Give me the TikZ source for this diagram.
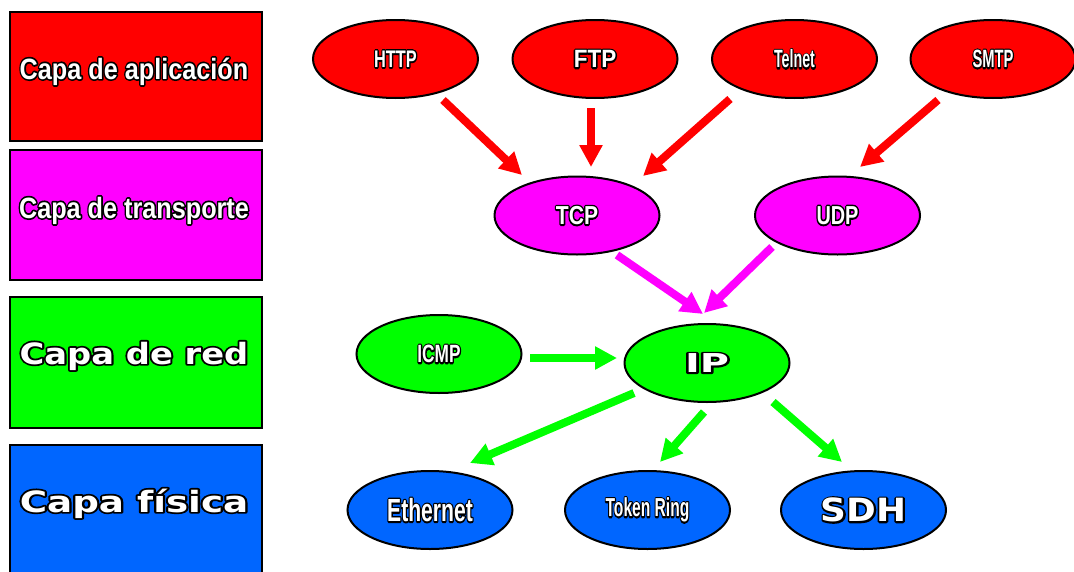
\documentclass[tikz,border=0pt]{standalone}
\usepackage{fontspec}
\setmainfont{Liberation Sans}
\newfontfamily\heavyfont{DejaVu Sans}
\usepackage{graphicx}
\usetikzlibrary{shapes.geometric,arrows.meta,calc}

\definecolor{appred}{HTML}{FF0000}
\definecolor{transmag}{HTML}{FF00FF}
\definecolor{netgreen}{HTML}{00FF00}
\definecolor{physblue}{HTML}{0066FF}

% white lettering with a black rim: a stroked black pass, then the white fill
\newcommand\rimtext[1]{{\color{white}%
  \makebox[0pt][l]{\special{pdf:literal direct 0 0 0 RG 2.6 w 1 j 1 Tr}#1%
    \special{pdf:literal direct 0 Tr}}%
  #1}}
% \lbl[family]{size}{horizontal scale}{text}
\newcommand\lbl[4][\rmfamily]{{#1\fontsize{#2}{#2}\selectfont\bfseries\scalebox{#3}[1]{\rimtext{#4}}}}

\begin{document}
\begin{tikzpicture}[x=0.75pt,y=-0.75pt,
  layerbox/.style={draw=black, line width=1.5pt, minimum width=189pt, inner sep=0pt},
  proto/.style={ellipse, draw=black, line width=1.5pt, minimum width=123.75pt,
                minimum height=58.5pt, inner sep=0pt},
  flow/.style={line width=6pt, -{Triangle[width=16.5pt,length=16.5pt]}}]
\useasboundingbox (0,0) rectangle (1074,571);

% layer boxes on the left
\node (lapp) [layerbox, fill=appred, minimum height=96.75pt] at (136,76.5) {};
\node (ltra) [layerbox, fill=transmag, minimum height=97.5pt] at (136,215) {};
\node (lnet) [layerbox, fill=netgreen, minimum height=98.25pt] at (136,362.5) {};
\node (lphy) [layerbox, fill=physblue, minimum height=98.25pt] at (136,510.5) {};
\node (tapp) [anchor=base, inner sep=0pt] at (134,79) {\lbl{22pt}{0.86}{Capa de aplicación}};
\node (ttra) [anchor=base, inner sep=0pt] at (134,218) {\lbl{22pt}{0.86}{Capa de transporte}};
\node (tnet) [anchor=base, inner sep=0pt] at (134,364) {\lbl[\heavyfont]{22pt}{1.15}{Capa de red}};
\node (tphy) [anchor=base, inner sep=0pt] at (134,512) {\lbl[\heavyfont]{22pt}{1.27}{Capa física}};

% application protocols
\node (http)   [proto, fill=appred] at (395.5,59) {\lbl{18pt}{0.68}{HTTP}};
\node (ftp)    [proto, fill=appred] at (595,59)   {\lbl{18.75pt}{0.9}{FTP}};
\node (telnet) [proto, fill=appred] at (794.5,59) {\lbl{18.75pt}{0.57}{Telnet}};
\node (smtp)   [proto, fill=appred] at (993,59)   {\lbl{18.75pt}{0.59}{SMTP}};

% transport protocols
\node (tcp) [proto, fill=transmag] at (577,215.5)   {\lbl{19.5pt}{0.81}{TCP}};
\node (udp) [proto, fill=transmag] at (837.5,215.5) {\lbl{19.5pt}{0.765}{UDP}};

% network protocols
\node (icmp) [proto, fill=netgreen] at (439,354) {\lbl{18.75pt}{0.69}{ICMP}};
\node (ip)   [proto, fill=netgreen] at (707,363) {\lbl[\heavyfont]{19.5pt}{1.53}{IP}};

% physical layer
\node (eth) [proto, fill=physblue] at (430,510)   {\lbl{24pt}{0.66}{Ethernet}};
\node (tr)  [proto, fill=physblue] at (647.5,510) {\lbl{19.5pt}{0.6}{Token Ring}};
\node (sdh) [proto, fill=physblue] at (863.5,510) {\lbl[\heavyfont]{24pt}{1.12}{SDH}};

% arrows between layers
\draw[flow, appred] ($(http)+(47.5,41)$)   -- ($(tcp)+(-55,-40.5)$);
\draw[flow, appred] ($(ftp)+(-4,49)$)      -- ($(tcp)+(14,-48.5)$);
\draw[flow, appred] ($(telnet)+(-64.5,40)$) -- ($(tcp)+(66,-39.5)$);
\draw[flow, appred] ($(smtp)+(-55,41)$)    -- ($(udp)+(22.5,-48.5)$);

\draw[flow, transmag] ($(tcp)+(40,39.5)$)   -- ($(ip)+(-4,-49)$);
\draw[flow, transmag] ($(udp)+(-65.5,31.5)$) -- ($(ip)+(-3,-50)$);

\draw[flow, netgreen] ($(icmp)+(91,4)$) -- ($(ip)+(-90,-5)$);
\draw[flow, netgreen] ($(ip)+(-73,30)$) -- ($(eth)+(40,-47)$);
\draw[flow, netgreen] ($(ip)+(-3,49)$)  -- ($(tr)+(12.5,-48)$);
\draw[flow, netgreen] ($(ip)+(66,39)$)  -- ($(sdh)+(-21.5,-48)$);
\end{tikzpicture}
\end{document}
